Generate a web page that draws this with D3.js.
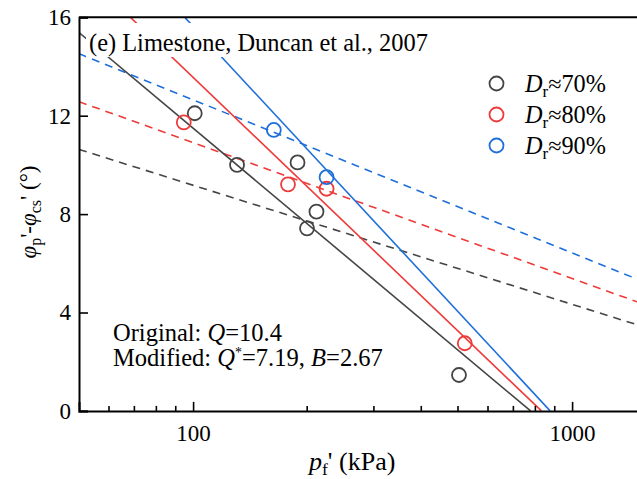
<!DOCTYPE html>
<html><head><meta charset="utf-8">
<script src="https://cdn.jsdelivr.net/npm/d3@7"></script>
<style>
body{margin:0;background:#fff;}
text{font-family:"Liberation Serif","Times New Roman",serif;fill:#000;}
</style></head>
<body><svg id="c" width="637" height="479"></svg>
<script>
// ---- data ----
const seriesNames = ["70%", "80%", "90%"];
const seriesColors = ["#454545", "#ef3a3a", "#1f6fdb"];
const pts70 = [[101,12.1],[130.6,10.0],[188.6,10.1],[211.6,8.1],[199.8,7.42],[503,1.46]];
const pts80 = [[94.5,11.73],[178,9.21],[225,9.03],[521,2.75]];
const pts90 = [[163.3,11.42],[225,9.5]];
// original (dashed) fit: end points (p, phi)
const orig70 = [[50,10.63],[1500,3.48]];
const orig80 = [[50,12.57],[1500,4.41]];
const orig90 = [[50,14.52],[1500,5.33]];
// modified (solid) fit: end points (p, phi)
const mod70 = [[50,15.38],[777,0]];
const mod80 = [[50,18.0],[830,0]];
const mod90 = [[50,20.63],[875,0]];
const xMajor = [100, 1000];
const xMinor = [60,70,80,90,200,300,400,500,600,700,800,900];
const yTicks = [0,4,8,12,16];

const svg = d3.select("#c");
const L = 79, T = 17.3, B = 410.9;
const x = d3.scaleLog().domain([50,1500]).range([L, L + Math.log10(1500/50)*379]);
const y = d3.scaleLinear().domain([0,16]).range([B, T]);
const R = x.range()[1];

// helper: text group scaled so the text spans a target width
function fitText(px, py, targetW, rot, anchor) {
  const gg = svg.append("g");
  const t = gg.append("text").attr("x",0).attr("y",0).attr("font-size",23);
  if (anchor) t.attr("text-anchor", anchor);
  return {t, done(){
    let k = 1;
    if (targetW) { const w = t.node().getComputedTextLength(); k = targetW / w; }
    gg.attr("transform", `translate(${px},${py})` + (rot?` rotate(${rot})`:"") + ` scale(${k})`);
  }};
}

svg.append("clipPath").attr("id","clip").append("rect")
  .attr("x",L).attr("y",T).attr("width",R-L).attr("height",B-T);

const g = svg.append("g").attr("clip-path","url(#clip)");
const line = d3.line().x(d=>x(d[0])).y(d=>y(d[1]));
const origs = [orig70, orig80, orig90];
const mods = [mod70, mod80, mod90];
const pts = [pts70, pts80, pts90];

origs.forEach((o,i)=>{
  g.append("path").attr("d",line(o)).attr("fill","none")
   .attr("stroke",seriesColors[i]).attr("stroke-width",1.6).attr("stroke-dasharray","8,6");
});
mods.forEach((o,i)=>{
  g.append("path").attr("d",line(o)).attr("fill","none")
   .attr("stroke",seriesColors[i]).attr("stroke-width",1.6);
});
pts.forEach((ps,i)=>{
  g.selectAll(null).data(ps).enter().append("circle")
   .attr("cx",d=>x(d[0])).attr("cy",d=>y(d[1])).attr("r",7)
   .attr("fill","none").attr("stroke",seriesColors[i]).attr("stroke-width",1.8);
});

// title with white background
svg.append("rect").attr("x",86).attr("y",23).attr("width",345).attr("height",34).attr("fill","#fff");
const ti = fitText(89, 50.5, 339);
ti.t.text("(e) Limestone, Duncan et al., 2007");
ti.done();

// axes frame
svg.append("line").attr("x1",L).attr("x2",R+2).attr("y1",T).attr("y2",T).attr("stroke","#000").attr("stroke-width",2);
// bottom axis
const xa = d3.axisBottom(x).tickValues(xMajor).tickSize(-9).tickPadding(14)
  .tickFormat(d3.format("d"));
const gx = svg.append("g").attr("transform",`translate(0,${B})`).call(xa);
gx.select(".domain").attr("stroke-width",2);
gx.selectAll(".tick line").attr("stroke-width",1.6);
gx.selectAll(".tick text").attr("font-size",23).attr("font-family","Liberation Serif, serif").attr("fill","#000");
gx.selectAll(null).data(xMinor).enter().append("line")
  .attr("x1",d=>x(d)).attr("x2",d=>x(d)).attr("y1",0).attr("y2",-5)
  .attr("stroke","#000").attr("stroke-width",1.6);
// left axis
const ya = d3.axisLeft(y).tickValues(yTicks).tickSize(-9).tickPadding(8);
const gy = svg.append("g").attr("transform",`translate(${L},0)`).call(ya);
gy.select(".domain").attr("stroke-width",2);
gy.selectAll(".tick line").attr("stroke-width",1.6);
gy.selectAll(".tick text").attr("font-size",23).attr("font-family","Liberation Serif, serif").attr("fill","#000");

// x label
const xl = svg.append("text").attr("x",309).attr("y",469.5).attr("font-size",26);
xl.append("tspan").attr("font-style","italic").text("p");
xl.append("tspan").attr("font-size",17.5).attr("dy",5).text("f");
xl.append("tspan").attr("dy",-5).text("' (kPa)");

// y label
const yl = svg.append("text").attr("transform","translate(36,212) rotate(-90)")
  .attr("text-anchor","middle").attr("font-size",23);
yl.append("tspan").attr("font-style","italic").text("φ");
yl.append("tspan").attr("font-size",16).attr("dy",5).text("p");
yl.append("tspan").attr("dy",-5).text("'-");
yl.append("tspan").attr("font-style","italic").text("φ");
yl.append("tspan").attr("font-size",16).attr("dy",5).text("cs");
yl.append("tspan").attr("dy",-5).text("' (°)");

// legend
seriesNames.forEach((n,i)=>{
  const cy = 83.5 + i*31;
  svg.append("circle").attr("cx",496.5).attr("cy",cy).attr("r",7)
    .attr("fill","none").attr("stroke",seriesColors[i]).attr("stroke-width",1.8);
  const f = fitText(525, cy+8, 81);
  f.t.append("tspan").attr("font-style","italic").text("D");
  f.t.append("tspan").attr("font-size",16).attr("dy",5).text("r");
  f.t.append("tspan").attr("dy",-5).text("≈"+n);
  f.done();
});

// annotation
const a1F = fitText(113, 341, 169);
a1F.t.append("tspan").text("Original: ");
a1F.t.append("tspan").attr("font-style","italic").text("Q");
a1F.t.append("tspan").text("=10.4");
a1F.done();
const a2F = fitText(113, 365.5, 270);
a2F.t.append("tspan").text("Modified: ");
a2F.t.append("tspan").attr("font-style","italic").text("Q");
a2F.t.append("tspan").attr("font-size",13).attr("dy",-8).text("*");
a2F.t.append("tspan").attr("dy",8).text("=7.19, ");
a2F.t.append("tspan").attr("font-style","italic").text("B");
a2F.t.append("tspan").text("=2.67");
a2F.done();
</script></body></html>
